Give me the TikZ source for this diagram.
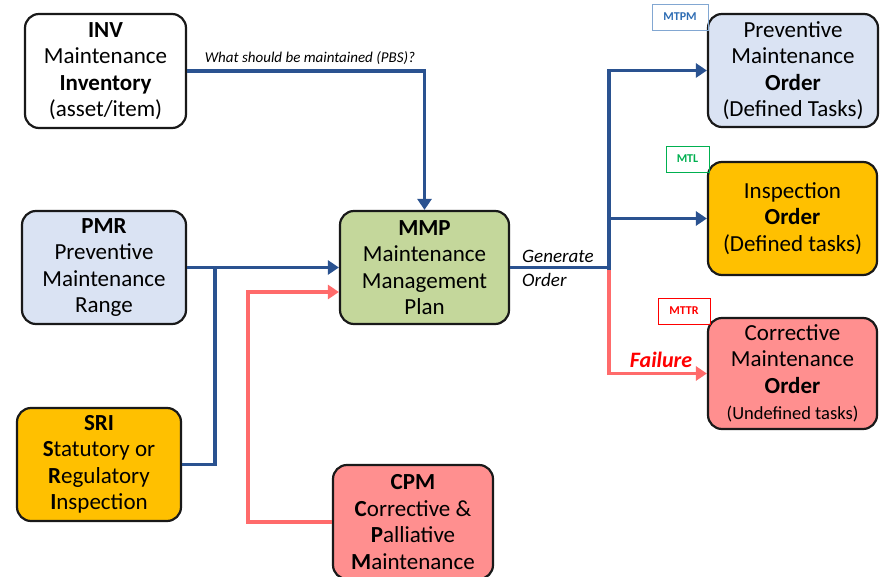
\documentclass[tikz,border=0pt]{standalone}
\usepackage{fontspec}
\setmainfont{Carlito}
\usetikzlibrary{arrows.meta,calc}
\definecolor{lblue}{HTML}{DAE3F3}
\definecolor{lgreen}{HTML}{C4D79B}
\definecolor{orng}{HTML}{FFC000}
\definecolor{pink}{HTML}{FF8F8F}
\definecolor{dblue}{HTML}{2A5290}
\definecolor{lred}{HTML}{FF6B6B}
\definecolor{tagblue}{HTML}{2E6DB4}
\definecolor{taggreen}{HTML}{00B050}
\begin{document}
\begin{tikzpicture}[x=1pt,y=-1pt,
  box/.style={draw=black!90, line width=2.2pt, rounded corners=14pt, align=center,
    inner sep=0pt, font=\fontsize{23}{26.5}\selectfont},
  tag/.style={draw, line width=0.8pt, font=\fontsize{12}{14}\selectfont\bfseries, inner sep=0pt,
    minimum height=26pt},
  bluearrow/.style={draw=dblue, line width=3.8pt, -{Triangle[length=11pt,width=14pt]}},
  bluelink/.style={draw=dblue, line width=3.8pt},
  redarrow/.style={draw=lred, line width=3.8pt, -{Triangle[length=11pt,width=14pt]}},
  lab/.style={font=\fontsize{19}{24}\selectfont\itshape, align=left, inner sep=0pt}]
\useasboundingbox (0,0) rectangle (885,577);
\fill[white] (0,0) rectangle (885,577);

\node[box, fill=white, minimum width=161pt, minimum height=114pt] (INV) at (105.5,71)
  {\textbf{INV}\\Maintenance\\\textbf{Inventory}\\(asset/item)};
\node[box, fill=lblue, minimum width=164pt, minimum height=113pt] (PMR) at (104,267.5)
  {\textbf{PMR}\\Preventive\\Maintenance\\Range};
\node[box, fill=orng, minimum width=164pt, minimum height=113pt] (SRI) at (99,464.5)
  {\textbf{SRI}\\\textbf{S}tatutory or\\\textbf{R}egulatory\\\textbf{I}nspection};
\node[box, fill=lgreen, minimum width=169pt, minimum height=113pt] (MMP) at (424.5,267.5)
  {\textbf{MMP}\\Maintenance\\Management\\Plan};
\node[box, fill=pink, minimum width=160pt, minimum height=114pt] (CPM) at (413,522)
  {\textbf{CPM}\\\textbf{C}orrective \&\\\textbf{P}alliative\\\textbf{M}aintenance};
\node[box, fill=lblue, minimum width=170pt, minimum height=113pt] (PMO) at (793,70.5)
  {Preventive\\Maintenance\\\textbf{Order}\\(Defined Tasks)};
\node[box, fill=orng, minimum width=169pt, minimum height=113pt] (INSP) at (792.5,218.5)
  {Inspection\\\textbf{Order}\\(Defined tasks)};
\node[box, fill=pink, minimum width=169pt, minimum height=111pt] (CMO) at (792.5,373.5)
  {Corrective\\Maintenance\\\textbf{Order}\\{\fontsize{18.5}{22}\selectfont(Undefined tasks)}};

\node[tag, draw=tagblue!60, text=tagblue, minimum width=56pt] (MTPM) at (680,17) {MTPM};
\node[tag, draw=taggreen, text=taggreen, minimum width=43pt] (MTL) at (687.5,159) {MTL};
\node[tag, draw=red, text=red, minimum width=52pt] (MTTR) at (684,311) {MTTR};

\coordinate (j1) at (215,267.5);
\coordinate (j2) at (609,267.5);
\coordinate (r1) at (248,292);

\draw[bluearrow] (INV.east) -| (MMP.north);
\draw[bluearrow] (PMR.east) -- (MMP.west);
\draw[bluelink, line join=miter] (SRI.east) -| (j1);
\draw[redarrow, line join=miter] (CPM.west) -| (r1) -- (r1 -| MMP.west);
\draw[redarrow, line join=miter] (j2) |- (CMO.west);
\draw[bluelink] (MMP.east) -- (j2);
\draw[bluearrow, line join=miter] ($(j2)+(0,2)$) |- (PMO.west);
\draw[bluearrow] (j2 |- INSP.west) -- (INSP.west);

\node[font=\fontsize{15}{18}\selectfont\itshape, inner sep=0pt] (q) at (310,58) {What should be maintained (PBS)?};
\node[lab, anchor=west] (gen) at (522,268) {Generate\\Order};
\node[font=\fontsize{22}{26}\selectfont\bfseries\itshape, text=red, inner sep=0pt] (fail) at (661,360) {Failure};
\end{tikzpicture}
\end{document}
